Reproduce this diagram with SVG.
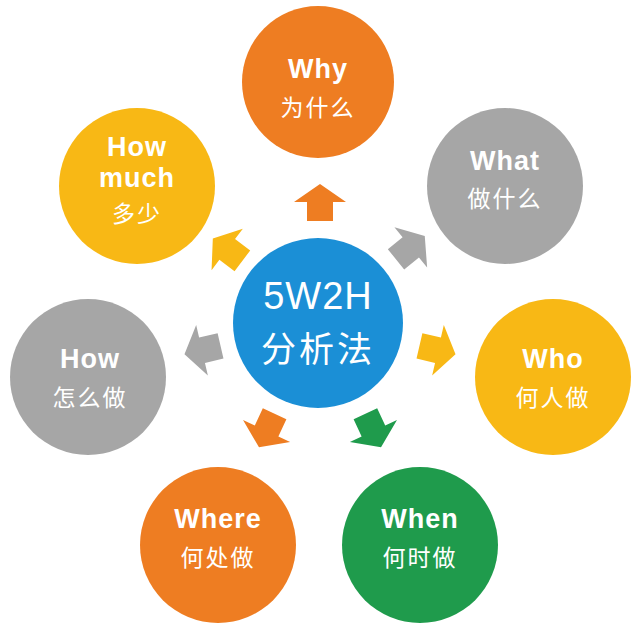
<svg xmlns="http://www.w3.org/2000/svg" width="637" height="637" viewBox="0 0 637 637">
<style>
.en{font-family:"Liberation Sans","Noto Sans CJK SC",sans-serif;font-weight:bold;font-size:27px;fill:#fff;text-anchor:middle;letter-spacing:1px}
.zh{font-family:"Noto Sans CJK SC",sans-serif;font-size:23px;fill:#fff;text-anchor:middle;letter-spacing:2px}
.c{font-family:"Liberation Sans","Noto Sans CJK SC",sans-serif;font-size:38px;fill:#fff;text-anchor:middle;letter-spacing:1px}
.or{fill:#EE7D22}.gr{fill:#A6A6A6}.ye{fill:#F8B815}.gn{fill:#1F9B4C}.bl{fill:#1B8FD6}
</style>
<defs><path id="arr" d="M0,-19 L26,-1 L13,-1 L13,18 L-13,18 L-13,-1 L-26,-1 Z"/></defs>
<rect width="637" height="637" fill="#fff"/>
<g id="connectors">
<use href="#arr" class="or" transform="translate(320,203)"/>
<use href="#arr" class="gr" transform="translate(410,248) rotate(51)"/>
<use href="#arr" class="ye" transform="translate(437,350) rotate(103)"/>
<use href="#arr" class="gn" transform="translate(373,430) rotate(155)"/>
<use href="#arr" class="or" transform="translate(267,430) rotate(-155)"/>
<use href="#arr" class="gr" transform="translate(203,350) rotate(-103)"/>
<use href="#arr" class="ye" transform="translate(228,250) rotate(-53)"/>
</g>
<g id="center"><circle cx="318" cy="323" r="85" class="bl"/>
<text class="c" x="318" y="309">5W2H</text><text class="c" x="318" y="362" style="font-family:'Noto Sans CJK SC',sans-serif;font-size:35px;letter-spacing:3px">分析法</text></g>
<g id="why"><circle cx="318" cy="82" r="76" class="or"/><text class="en" x="318" y="78">Why</text><text class="zh" x="318" y="116">为什么</text></g>
<g id="what"><circle cx="505" cy="186" r="78" class="gr"/><text class="en" x="505" y="170">What</text><text class="zh" x="505" y="207">做什么</text></g>
<g id="who"><circle cx="553" cy="377" r="78" class="ye"/><text class="en" x="553" y="368">Who</text><text class="zh" x="553" y="406">何人做</text></g>
<g id="when"><circle cx="420" cy="545" r="78" class="gn"/><text class="en" x="420" y="528">When</text><text class="zh" x="420" y="566">何时做</text></g>
<g id="where"><circle cx="218" cy="545" r="78" class="or"/><text class="en" x="218" y="528">Where</text><text class="zh" x="218" y="566">何处做</text></g>
<g id="how"><circle cx="88" cy="377" r="78" class="gr"/><text class="en" x="90" y="368">How</text><text class="zh" x="90" y="406">怎么做</text></g>
<g id="howmuch"><circle cx="137" cy="186" r="78" class="ye"/><text class="en" x="137" y="156">How</text><text class="en" x="137" y="187">much</text><text class="zh" x="137" y="222">多少</text></g>
</svg>
